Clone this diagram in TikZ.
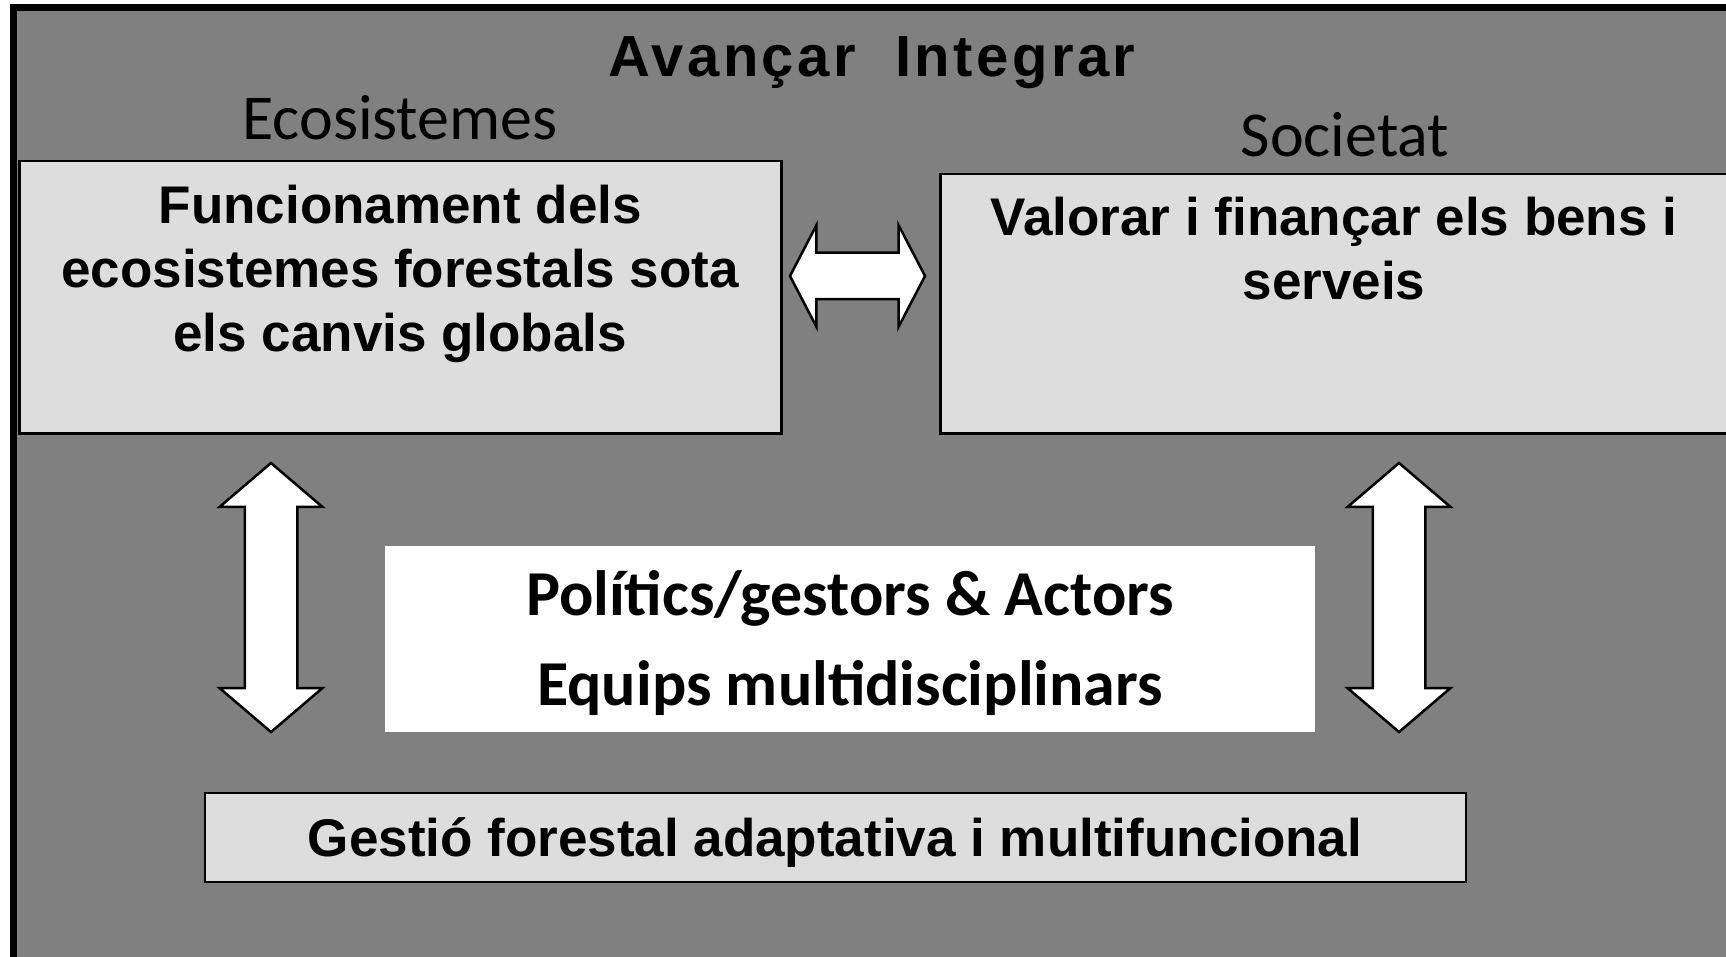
\documentclass[tikz,border=0pt]{standalone}
\usepackage{fontspec}
\usepackage{tikz}
\usetikzlibrary{shapes.arrows,positioning}
\newfontfamily\arialfont{Liberation Sans}
\newfontfamily\calfont{Carlito}
\newfontfamily\titlefont[LetterSpace=6]{Liberation Sans}
\definecolor{bggray}{HTML}{808080}
\definecolor{boxgray}{HTML}{DDDDDD}

\begin{document}
\begin{tikzpicture}[
  x=1pt,y=-1pt,
  panel/.style={draw=black,line width=2.5pt,fill=boxgray,inner sep=0pt},
  boxtxt/.style={font=\arialfont\bfseries\fontsize{53}{64}\selectfont,align=center,inner sep=0pt},
  lbl/.style={font=\calfont\fontsize{64}{72}\selectfont,inner sep=0pt},
  twoway/.style={double arrow,draw=black,fill=white,line width=2.5pt,inner xsep=0pt},
]
\useasboundingbox (0,0) rectangle (1726,957);
\clip (0,0) rectangle (1726,957);
\fill[white] (0,0) rectangle (1726,957);
% outer frame, runs off the right and bottom edges
\draw[line width=7pt,fill=bggray] (13,8) rectangle (1780,1000);

\node[font=\titlefont\bfseries\fontsize{58}{64}\selectfont,anchor=base] (title) at (872,77) {Avançar\ \ Integrar};

% top boxes
\node[panel,anchor=north west,minimum width=762,minimum height=272] (eco) at (18,160) {};
\node[panel,anchor=north west,minimum width=820,minimum height=259] (soc) at (939,173) {};
\node[lbl,anchor=base] (ecolbl) at (400,140) {Ecosistemes};
\node[lbl,anchor=base] (soclbl) at (1345,157) {Societat};
\node[boxtxt,anchor=north] (ecotxt) at ([yshift=-25pt]eco.north) {Funcionament dels\\ecosistemes forestals sota\\els canvis globals};
\node[boxtxt,anchor=north] (soctxt) at (1334,197) {Valorar i finançar els bens i\\serveis};

% middle and bottom
\node[fill=white,minimum width=930,minimum height=186,inner sep=0pt] (team) at (850,639) {};
\node[font=\calfont\bfseries\fontsize{64}{90}\selectfont,align=center,inner sep=0pt] (teamtxt) at (850,643) {Polítics/gestors \& Actors\\Equips multidisciplinars};
\node[panel,minimum width=1261,minimum height=89] (gest) at (835.5,837.5) {};
\node[boxtxt,anchor=base] (gesttxt) at (835,856) {Gestió forestal adaptativa i multifuncional};

% block arrows
\node[twoway,inner ysep=22pt,double arrow head extend=27.5pt,double arrow tip angle=125,minimum height=135] (h1) at (857.5,276) {};
\node[twoway,rotate=90,inner ysep=25pt,double arrow head extend=25pt,double arrow tip angle=99,minimum height=269] (v1) at (271,597.5) {};
\node[twoway,rotate=90,inner ysep=25pt,double arrow head extend=25pt,double arrow tip angle=99,minimum height=269] (v2) at (1399,597.5) {};
\end{tikzpicture}
\end{document}
